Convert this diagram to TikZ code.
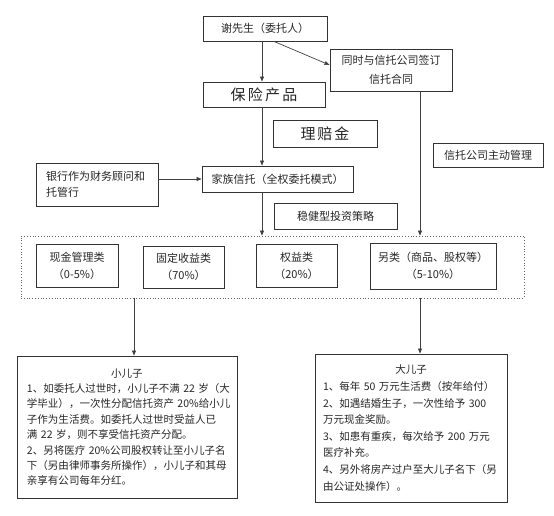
\documentclass[tikz,border=0pt]{standalone}
\usepackage{fontspec}
\setmainfont{Noto Sans CJK SC}
\usetikzlibrary{arrows.meta}

\begin{document}
\begin{tikzpicture}[x=1pt,y=-1pt,>={Triangle[length=5pt,width=4pt]},
  box/.style={draw=black!80,line width=0.9pt,inner sep=0pt,align=center,
    text=black!85,font=\fontsize{11}{17}\selectfont},
  bigbox/.style={box,font=\fontsize{15}{18}\selectfont},
  notebox/.style={box,align=left,font=\fontsize{10.5}{15.4}\selectfont},
  link/.style={draw=black!75,line width=0.7pt}]
\useasboundingbox (0,0) rectangle (554,515);

% top part
\node[box,minimum width=124pt,minimum height=25pt] (client) at (265,28.5) {谢先生（委托人）};
\node[box,minimum width=122pt,minimum height=42pt,font=\fontsize{11}{19}\selectfont] (contract) at (391,70) {同时与信托公司签订\\信托合同};
\node[bigbox,minimum width=122pt,minimum height=25pt] (insur) at (264,94.5) {保\hspace{2.3pt}险\hspace{2.3pt}产\hspace{2.3pt}品};
\node[bigbox,minimum width=104pt,minimum height=27pt] (claim) at (325,133.5) {理\hspace{2pt}赔\hspace{2pt}金};
\node[box,minimum width=110pt,minimum height=24pt] (manage) at (488,155) {信托公司主动管理};
\node[box,align=left,text width=102pt,minimum width=122pt,minimum height=43pt,font=\fontsize{11}{16}\selectfont] (bank) at (97,184.5) {银行作为财务顾问和\\托管行};
\node[box,minimum width=151pt,minimum height=26pt] (trust) at (277.5,179) {家族信托（全权委托模式）};
\node[box,minimum width=123pt,minimum height=26pt] (strategy) at (335.5,216) {稳健型投资策略};

% asset classes
\node[draw=black!60,dotted,line width=0.8pt,minimum width=503pt,minimum height=62pt] (pool) at (272.5,267) {};
\node[box,minimum width=82pt,minimum height=43pt] (cash) at (77,265.5) {现金管理类\\（0-5\%）};
\node[box,minimum width=81pt,minimum height=42pt] (fixed) at (183.5,267) {固定收益类\\（70\%）};
\node[box,minimum width=81pt,minimum height=43pt] (equity) at (296.5,265.5) {权益类\\（20\%）};
\node[box,minimum width=126pt,minimum height=46pt] (alt) at (433,266) {另类（商品、股权等）\\（5-10\%）};

% beneficiaries
\node[notebox,text width=200pt,minimum width=220pt,minimum height=142pt] (young) at (127,427) {{\centering 小儿子\par}
1、如委托人过世时，小儿子不满~22~岁（大\\
学毕业），一次性分配信托资产~20\%给小儿\\
子作为生活费。如委托人过世时受益人已\\
满~22~岁，则不享受信托资产分配。\\
2、另将医疗~20\%公司股权转让至小儿子名\\
下（另由律师事务所操作），小儿子和其母\\
亲享有公司每年分红。};
\node[notebox,text width=176pt,minimum width=192pt,minimum height=148pt,font=\fontsize{10.5}{16.6}\selectfont] (elder) at (411,428) {{\centering 大儿子\par}
1、每年~50~万元生活费（按年给付）\\
2、如遇结婚生子，一次性给予~300\\
万元现金奖励。\\
3、如患有重疾，每次给予~200~万元\\
医疗补充。\\
4、另外将房产过户至大儿子名下（另\\
由公证处操作）。};

% connectors
\coordinate (spine) at (262,0);
\coordinate (rline) at (420,0);
\coordinate (lout) at (134,0);
\draw[link,->] (client.south -| spine) -- (insur.north -| spine);
\draw[link,->] ([xshift=9pt]client.south) -- ([yshift=5pt]contract.west);
\draw[link,->] (insur.south -| spine) -- (trust.north -| spine);
\draw[link,->] (bank.east |- trust.west) -- (trust.west);
\draw[link,->] (trust.south -| spine) -- (pool.north -| spine);
\draw[link,->] (contract.south -| rline) -- (pool.north -| rline);
\draw[link,->] (pool.south -| lout) -- (young.north -| lout);
\draw[link,->] (pool.south -| rline) -- (elder.north -| rline);
\end{tikzpicture}
\end{document}
